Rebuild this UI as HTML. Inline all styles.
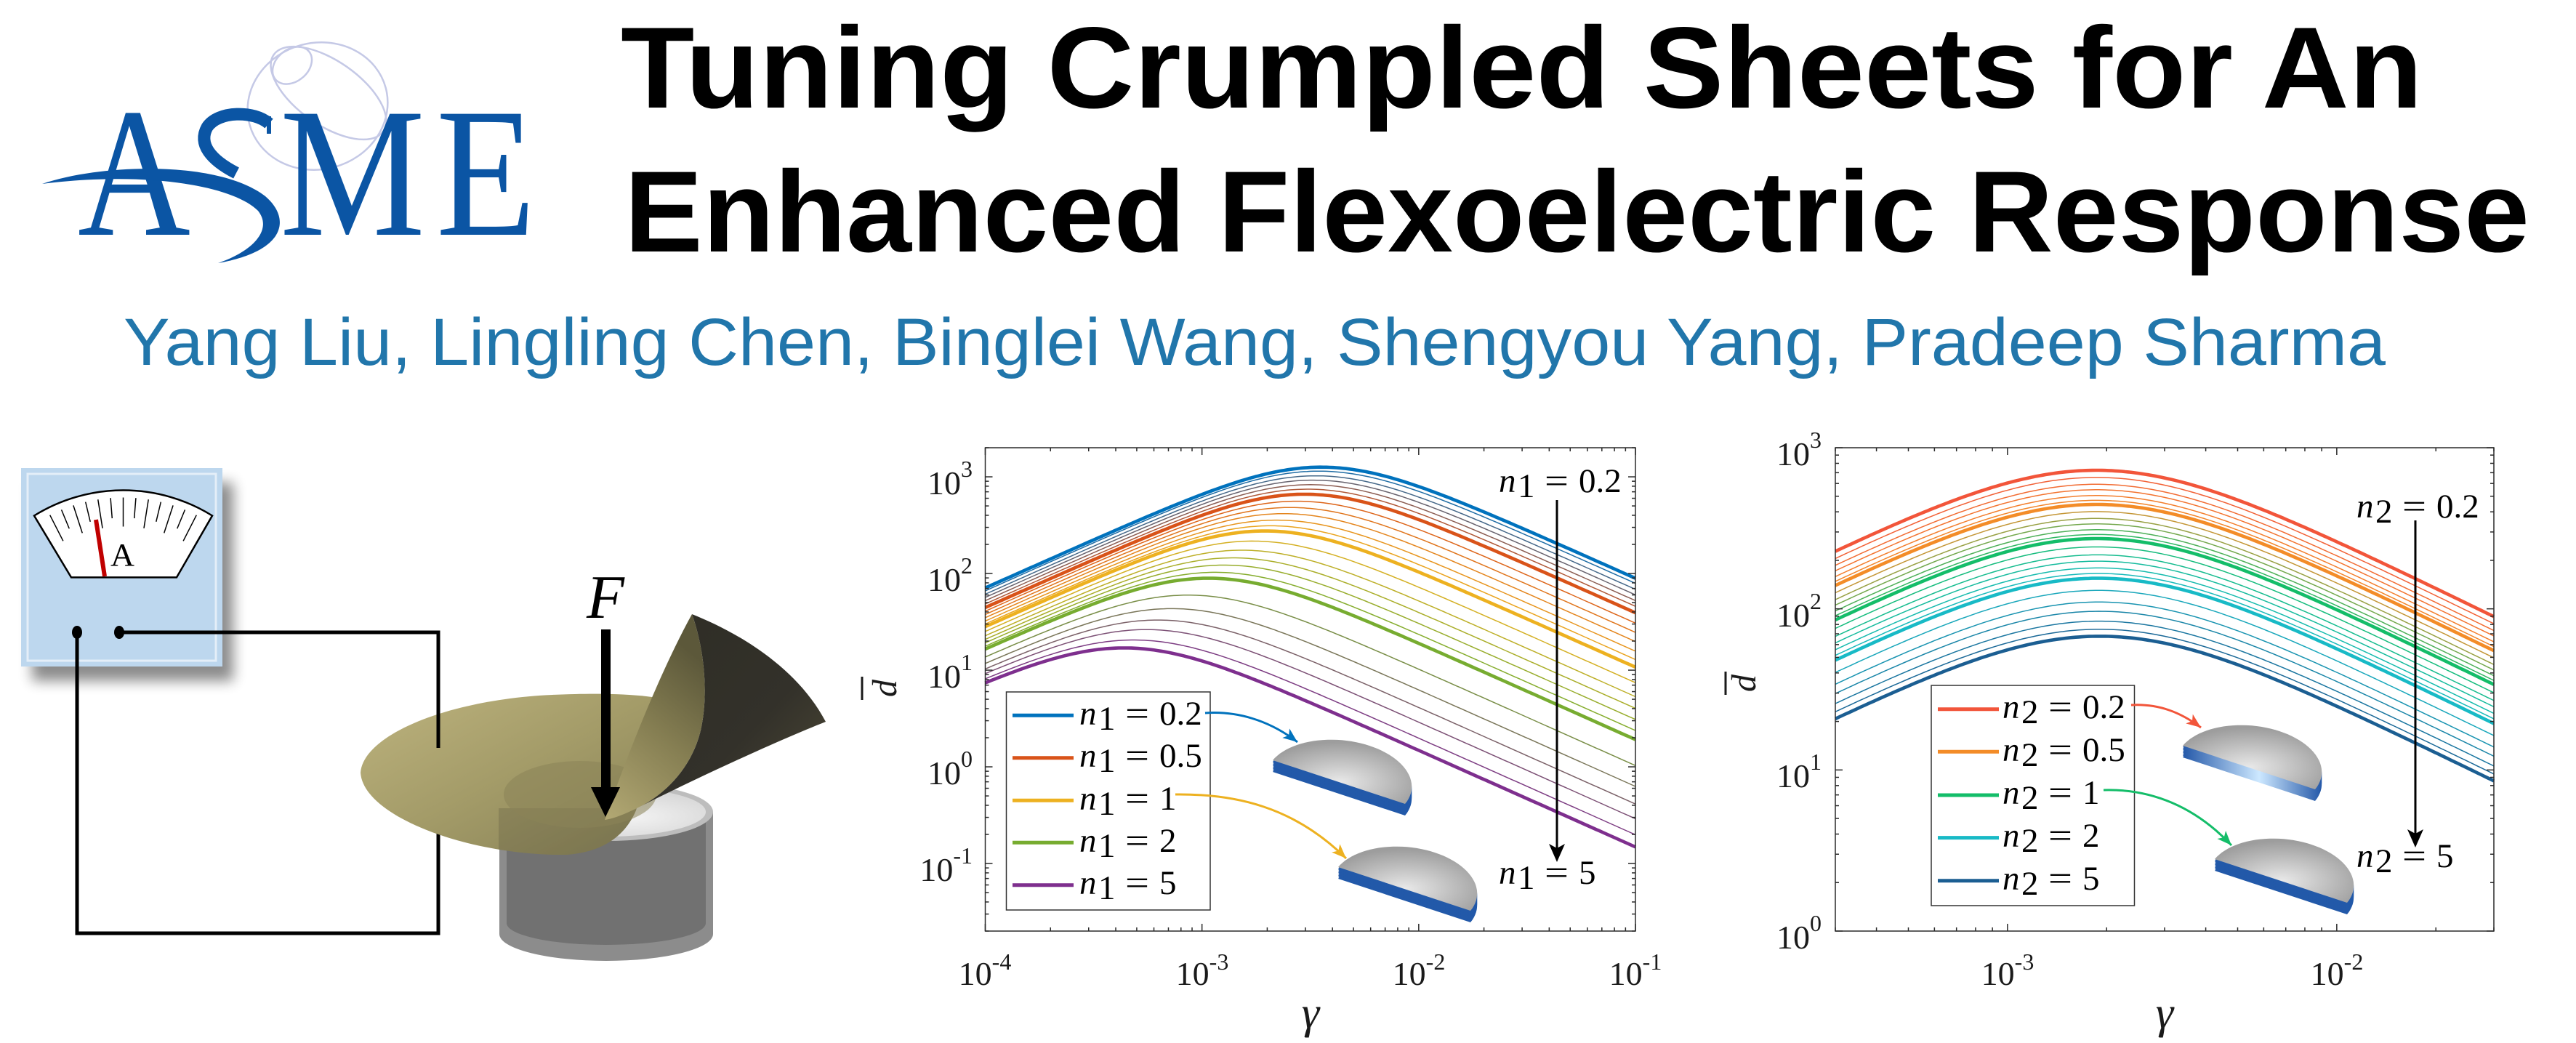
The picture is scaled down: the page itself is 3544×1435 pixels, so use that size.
<!DOCTYPE html>
<html><head><meta charset="utf-8">
<style>
html,body{margin:0;padding:0;background:#fff;width:3544px;height:1435px;overflow:hidden;}
svg{display:block;}
.tk{font-family:"Liberation Serif",serif;fill:#1a1a1a;}
.lb text{font-family:"Liberation Serif",serif;font-size:47px;fill:#000;}
</style></head><body>
<svg id="s" width="3544" height="1435" viewBox="0 0 3544 1435" xmlns="http://www.w3.org/2000/svg">
<defs>
 <filter id="sh" x="-30%" y="-30%" width="160%" height="160%"><feGaussianBlur stdDeviation="9"/></filter>
 <linearGradient id="olv" x1="0" y1="0" x2="1" y2="1"><stop offset="0" stop-color="#bdb37e"/><stop offset="0.5" stop-color="#a39b68"/><stop offset="1" stop-color="#857f55"/></linearGradient>
 <linearGradient id="flapF" x1="0" y1="1" x2="0.4" y2="0"><stop offset="0" stop-color="#b3a974"/><stop offset="0.55" stop-color="#857e52"/><stop offset="1" stop-color="#5c583a"/></linearGradient>
 <linearGradient id="flapD" x1="0" y1="0" x2="1" y2="1"><stop offset="0" stop-color="#2e2d25"/><stop offset="0.6" stop-color="#33312a"/><stop offset="1" stop-color="#4d4936"/></linearGradient>
 <radialGradient id="cylT" cx="0.6" cy="0.6" r="0.7"><stop offset="0" stop-color="#f4f4f4"/><stop offset="1" stop-color="#cdcdcd"/></radialGradient>
 <radialGradient id="dg" cx="0.48" cy="0.66" r="0.62"><stop offset="0" stop-color="#e9e9e9"/><stop offset="1" stop-color="#9d9d9d"/></radialGradient>
 <linearGradient id="slabH" x1="0" y1="0" x2="1" y2="0"><stop offset="0" stop-color="#2458a8"/><stop offset="0.55" stop-color="#cde8ff"/><stop offset="1" stop-color="#2458a8"/></linearGradient>
 <marker id="mB" markerUnits="userSpaceOnUse" markerWidth="22" markerHeight="18" refX="20" refY="8" orient="auto"><path d="M0,0 L20,8 L0,16 L5,8 Z" fill="#0072BD"/></marker>
 <marker id="mY" markerUnits="userSpaceOnUse" markerWidth="22" markerHeight="18" refX="20" refY="8" orient="auto"><path d="M0,0 L20,8 L0,16 L5,8 Z" fill="#EDB120"/></marker>
 <marker id="mR" markerUnits="userSpaceOnUse" markerWidth="22" markerHeight="18" refX="20" refY="8" orient="auto"><path d="M0,0 L20,8 L0,16 L5,8 Z" fill="#F2553A"/></marker>
 <marker id="mG" markerUnits="userSpaceOnUse" markerWidth="22" markerHeight="18" refX="20" refY="8" orient="auto"><path d="M0,0 L20,8 L0,16 L5,8 Z" fill="#14BD69"/></marker>
 <clipPath id="shclip"><path d="M496,1063 C500,1010 620,962 760,956 C830,953 880,955 915,962 L890,1060 L875,1115 C860,1150 830,1172 780,1176 C650,1178 500,1125 496,1063 Z"/></clipPath>
</defs>

<!-- ASME logo -->
<g>
 <g fill="none" stroke="#c5c9e6" stroke-width="2.5">
  <ellipse cx="437" cy="146" rx="97" ry="87" transform="rotate(-15 437 146)"/>
  <ellipse cx="452" cy="128" rx="92" ry="44" transform="rotate(35 452 128)"/>
  <ellipse cx="402" cy="90" rx="30" ry="22" transform="rotate(-40 402 90)"/>
 </g>
 <g fill="#0b55a4" font-family="'Liberation Serif',serif" font-size="254">
  <text x="107" y="323" textLength="155" lengthAdjust="spacingAndGlyphs">A</text>
  <text x="385" y="323" textLength="200" lengthAdjust="spacingAndGlyphs">M</text>
  <text x="600" y="323" textLength="137" lengthAdjust="spacingAndGlyphs">E</text>
 </g>
 <path d="M370,170 C350,152 300,152 285,175 C272,198 290,220 325,238" fill="none" stroke="#0b55a4" stroke-width="17"/>
 <line x1="370" y1="160" x2="370" y2="184" stroke="#0b55a4" stroke-width="6"/>
 <path d="M58,253 C140,225 300,220 365,270 C400,300 395,345 300,362 C350,345 375,315 355,290 C320,255 200,235 58,253 Z" fill="#0b55a4"/>
</g>

<!-- Title -->
<text x="854" y="148" font-family="'Liberation Sans',sans-serif" font-weight="bold" font-size="159" fill="#000" textLength="2479" lengthAdjust="spacingAndGlyphs">Tuning Crumpled Sheets for An</text>
<text x="859" y="346" font-family="'Liberation Sans',sans-serif" font-weight="bold" font-size="159" fill="#000" textLength="2621" lengthAdjust="spacingAndGlyphs">Enhanced Flexoelectric Response</text>
<text x="170" y="502" font-family="'Liberation Sans',sans-serif" font-size="92" fill="#2176ab" textLength="3112" lengthAdjust="spacingAndGlyphs">Yang Liu, Lingling Chen, Binglei Wang, Shengyou Yang, Pradeep Sharma</text>

<!-- Illustration -->
<g>
 <rect x="44" y="664" width="277" height="273" fill="#000" opacity="0.45" filter="url(#sh)"/>
 <rect x="29" y="644" width="277" height="273" fill="#bdd7ee"/>
 <rect x="38" y="652" width="259" height="257" fill="none" stroke="#e4eef8" stroke-width="3"/>
 <path d="M47,709.5 A232,232 0 0 1 292,709.5 L243,794.4 L98,794.4 Z" fill="#fff" stroke="#000" stroke-width="2.5"/>
 <g id="dialTicks" stroke="#000" stroke-width="1.5"></g>
 <line x1="132" y1="715" x2="144" y2="793" stroke="#c00000" stroke-width="6"/>
 <text x="152" y="778" font-family="'Liberation Serif',serif" font-size="44" textLength="33" lengthAdjust="spacingAndGlyphs" fill="#000">A</text>
 <ellipse cx="106" cy="870" rx="7" ry="9" fill="#000"/>
 <ellipse cx="164" cy="870" rx="7" ry="9" fill="#000"/>
 <path d="M603,1100 V1284 H106 V870" fill="none" stroke="#000" stroke-width="5"/>

 <!-- cylinder -->
 <path d="M687,1117 V1285 A147,37 0 0 0 981,1285 V1117 Z" fill="#8c8c8c"/>
 <path d="M697,1125 V1270 A137,30 0 0 0 971,1270 V1125 Z" fill="#717171"/>
 <ellipse cx="834" cy="1117" rx="147" ry="40" fill="#bdbdbd"/>
 <ellipse cx="834" cy="1117" rx="137" ry="34" fill="url(#cylT)"/>

 <!-- sheet -->
 <path d="M496,1063 C500,1010 620,962 760,956 C830,953 880,955 915,962 L890,1060 L875,1115 C860,1150 830,1172 780,1176 C650,1178 500,1125 496,1063 Z" fill="url(#olv)"/>
 <rect x="686" y="1112" width="300" height="90" fill="#4a4530" opacity="0.22" clip-path="url(#shclip)"/>
 <ellipse cx="798" cy="1093" rx="105" ry="46" fill="#8a8458" opacity="0.55"/>
 <path d="M952,845 C1010,868 1095,915 1136,993 C1080,1015 980,1060 880,1110 C920,1090 955,1050 965,1000 C975,950 968,890 952,845 Z" fill="url(#flapD)"/>
 <path d="M832,1128 C855,1060 905,930 952,845 C968,890 975,950 965,1000 C955,1050 920,1090 880,1110 C860,1120 845,1126 832,1128 Z" fill="url(#flapF)"/>
 <path d="M164,870 H603 V1029" fill="none" stroke="#000" stroke-width="5"/>

 <!-- force -->
 <rect x="827" y="866" width="13" height="222" fill="#000"/>
 <path d="M813,1083 L853,1083 L833,1124 Z" fill="#000"/>
 <text x="833" y="850" text-anchor="middle" font-family="'Liberation Serif',serif" font-style="italic" font-size="85" fill="#000">F</text>
</g>

<!-- Middle chart -->
<g id="c1"></g>
<g class="tk" font-size="46">
 <text x="1338" y="680" text-anchor="end">10<tspan font-size="32" dy="-24">3</tspan></text>
 <text x="1338" y="813" text-anchor="end">10<tspan font-size="32" dy="-24">2</tspan></text>
 <text x="1338" y="946" text-anchor="end">10<tspan font-size="32" dy="-24">1</tspan></text>
 <text x="1338" y="1079" text-anchor="end">10<tspan font-size="32" dy="-24">0</tspan></text>
 <text x="1338" y="1212" text-anchor="end">10<tspan font-size="32" dy="-24">-1</tspan></text>
 <text x="1355" y="1355" text-anchor="middle">10<tspan font-size="32" dy="-21">-4</tspan></text>
 <text x="1654" y="1355" text-anchor="middle">10<tspan font-size="32" dy="-21">-3</tspan></text>
 <text x="1952" y="1355" text-anchor="middle">10<tspan font-size="32" dy="-21">-2</tspan></text>
 <text x="2250" y="1355" text-anchor="middle">10<tspan font-size="32" dy="-21">-1</tspan></text>
 <text x="1803" y="1414" text-anchor="middle" font-style="italic" font-size="62">γ</text>
 <text transform="translate(1233,947) rotate(-90)" text-anchor="middle" font-style="italic" font-size="48">d</text>
</g>
<line x1="1186" y1="931" x2="1186" y2="963" stroke="#1a1a1a" stroke-width="3"/>
<!-- legend 1 -->
<rect x="1384.5" y="952" width="280.5" height="300" fill="#fff" stroke="#333" stroke-width="1.5"/>
<g stroke-width="5">
 <line x1="1393" y1="984.3" x2="1477" y2="984.3" stroke="#0072BD"/>
 <line x1="1393" y1="1042.7" x2="1477" y2="1042.7" stroke="#D95319"/>
 <line x1="1393" y1="1101.3" x2="1477" y2="1101.3" stroke="#EDB120"/>
 <line x1="1393" y1="1159.3" x2="1477" y2="1159.3" stroke="#77AC30"/>
 <line x1="1393" y1="1217.7" x2="1477" y2="1217.7" stroke="#7E2F8E"/>
</g>
<g class="lb">
 <text x="1485" y="997" font-style="italic">n</text><text x="1511" y="1004" font-size="33">1</text><text x="1548" y="997" textLength="33" lengthAdjust="spacingAndGlyphs">=</text><text x="1595" y="997">0.2</text>
 <text x="1485" y="1055" font-style="italic">n</text><text x="1511" y="1062" font-size="33">1</text><text x="1548" y="1055" textLength="33" lengthAdjust="spacingAndGlyphs">=</text><text x="1595" y="1055">0.5</text>
 <text x="1485" y="1114" font-style="italic">n</text><text x="1511" y="1121" font-size="33">1</text><text x="1548" y="1114" textLength="33" lengthAdjust="spacingAndGlyphs">=</text><text x="1595" y="1114">1</text>
 <text x="1485" y="1172" font-style="italic">n</text><text x="1511" y="1179" font-size="33">1</text><text x="1548" y="1172" textLength="33" lengthAdjust="spacingAndGlyphs">=</text><text x="1595" y="1172">2</text>
 <text x="1485" y="1230" font-style="italic">n</text><text x="1511" y="1237" font-size="33">1</text><text x="1548" y="1230" textLength="33" lengthAdjust="spacingAndGlyphs">=</text><text x="1595" y="1230">5</text>
 <text x="2062" y="677" font-style="italic">n</text><text x="2088" y="684" font-size="33">1</text><text x="2125" y="677" textLength="33" lengthAdjust="spacingAndGlyphs">=</text><text x="2172" y="677">0.2</text>
 <text x="2062" y="1216" font-style="italic">n</text><text x="2088" y="1223" font-size="33">1</text><text x="2125" y="1216" textLength="33" lengthAdjust="spacingAndGlyphs">=</text><text x="2172" y="1216">5</text>
</g>
<line x1="2142" y1="688" x2="2142" y2="1168" stroke="#000" stroke-width="3"/>
<path d="M2142,1186 L2131,1161 L2142,1167 L2153,1161 Z" fill="#000"/>
<g id="d1"></g>
<path d="M1658,981 C1700,978 1745,990 1785,1021" fill="none" stroke="#0072BD" stroke-width="3" marker-end="url(#mB)"/>
<path d="M1617,1093 C1700,1092 1780,1110 1852,1181" fill="none" stroke="#EDB120" stroke-width="3" marker-end="url(#mY)"/>

<!-- Right chart -->
<g id="c2"></g>
<g class="tk" font-size="46">
 <text x="2506" y="640" text-anchor="end">10<tspan font-size="32" dy="-24">3</tspan></text>
 <text x="2506" y="862" text-anchor="end">10<tspan font-size="32" dy="-24">2</tspan></text>
 <text x="2506" y="1083" text-anchor="end">10<tspan font-size="32" dy="-24">1</tspan></text>
 <text x="2506" y="1305" text-anchor="end">10<tspan font-size="32" dy="-24">0</tspan></text>
 <text x="2762" y="1355" text-anchor="middle">10<tspan font-size="32" dy="-21">-3</tspan></text>
 <text x="3215" y="1355" text-anchor="middle">10<tspan font-size="32" dy="-21">-2</tspan></text>
 <text x="2978" y="1414" text-anchor="middle" font-style="italic" font-size="62">γ</text>
 <text transform="translate(2415,940) rotate(-90)" text-anchor="middle" font-style="italic" font-size="48">d</text>
</g>
<line x1="2374" y1="924" x2="2374" y2="956" stroke="#1a1a1a" stroke-width="3"/>
<rect x="2657" y="943" width="279.5" height="303" fill="#fff" stroke="#333" stroke-width="1.5"/>
<g stroke-width="5">
 <line x1="2666" y1="975.7" x2="2750" y2="975.7" stroke="#F2553A"/>
 <line x1="2666" y1="1034.3" x2="2750" y2="1034.3" stroke="#F38C28"/>
 <line x1="2666" y1="1094" x2="2750" y2="1094" stroke="#14BD69"/>
 <line x1="2666" y1="1152.6" x2="2750" y2="1152.6" stroke="#18BAC6"/>
 <line x1="2666" y1="1211.8" x2="2750" y2="1211.8" stroke="#1B5E92"/>
</g>
<g class="lb">
 <text x="2755" y="988" font-style="italic">n</text><text x="2781" y="995" font-size="33">2</text><text x="2818" y="988" textLength="33" lengthAdjust="spacingAndGlyphs">=</text><text x="2865" y="988">0.2</text>
 <text x="2755" y="1047" font-style="italic">n</text><text x="2781" y="1054" font-size="33">2</text><text x="2818" y="1047" textLength="33" lengthAdjust="spacingAndGlyphs">=</text><text x="2865" y="1047">0.5</text>
 <text x="2755" y="1106" font-style="italic">n</text><text x="2781" y="1113" font-size="33">2</text><text x="2818" y="1106" textLength="33" lengthAdjust="spacingAndGlyphs">=</text><text x="2865" y="1106">1</text>
 <text x="2755" y="1165" font-style="italic">n</text><text x="2781" y="1172" font-size="33">2</text><text x="2818" y="1165" textLength="33" lengthAdjust="spacingAndGlyphs">=</text><text x="2865" y="1165">2</text>
 <text x="2755" y="1224" font-style="italic">n</text><text x="2781" y="1231" font-size="33">2</text><text x="2818" y="1224" textLength="33" lengthAdjust="spacingAndGlyphs">=</text><text x="2865" y="1224">5</text>
 <text x="3242" y="712" font-style="italic">n</text><text x="3268" y="719" font-size="33">2</text><text x="3305" y="712" textLength="33" lengthAdjust="spacingAndGlyphs">=</text><text x="3352" y="712">0.2</text>
 <text x="3242" y="1193" font-style="italic">n</text><text x="3268" y="1200" font-size="33">2</text><text x="3305" y="1193" textLength="33" lengthAdjust="spacingAndGlyphs">=</text><text x="3352" y="1193">5</text>
</g>
<line x1="3323" y1="716" x2="3323" y2="1148" stroke="#000" stroke-width="3"/>
<path d="M3323,1166 L3312,1141 L3323,1147 L3334,1141 Z" fill="#000"/>
<g id="d2"></g>
<path d="M2932,970 C2970,968 3000,980 3028,1001" fill="none" stroke="#F2553A" stroke-width="3" marker-end="url(#mR)"/>
<path d="M2894,1087 C2960,1085 3020,1110 3070,1163" fill="none" stroke="#14BD69" stroke-width="3" marker-end="url(#mG)"/>
</svg>
<script>
(function(){
var NS='http://www.w3.org/2000/svg';
function el(t,a,p){var e=document.createElementNS(NS,t);for(var k in a)e.setAttribute(k,a[k]);p.appendChild(e);return e;}
var L10=function(v){return Math.log(v)/Math.LN10;};
function chart(c){
 var g=document.getElementById(c.id);
 var X=function(lx){return c.x0+(lx-c.lx0)/(c.lx1-c.lx0)*(c.x1-c.x0);};
 var Y=function(ly){return c.y1-(ly-c.ly0)/(c.ly1-c.ly0)*(c.y1-c.y0);};
 var cur=[];
 for(var s=0;s<c.th.length-1;s++){var a=c.th[s],b=c.th[s+1],ts=c.ts[s];
  for(var k=(s?1:0);k<ts.length;k++){var t=ts[k];
   cur.push({x0:a[0]+(b[0]-a[0])*t,p:a[1]+(b[1]-a[1])*t,col:[0,1,2].map(function(i){return Math.round(a[2][i]+(b[2][i]-a[2][i])*t);}),thick:(k==0||k==ts.length-1)});}}
 var order=cur.filter(function(q){return !q.thick;}).concat(cur.filter(function(q){return q.thick;}));
 order.forEach(function(q){var d='';var N=200;
  for(var i=0;i<=N;i++){var lx=c.lx0+(c.lx1-c.lx0)*i/N,u=lx-q.x0;var ly=q.p+L10(2)+u-L10(1+Math.pow(10,2*u));
   d+=(i?'L':'M')+X(lx).toFixed(1)+','+Y(ly).toFixed(1);}
  el('path',{d:d,fill:'none',stroke:'rgb('+q.col.join(',')+')','stroke-width':q.thick?4.6:1.5,'stroke-linejoin':'round'},g);});
 var tg=el('g',{stroke:'#2a2a2a','stroke-width':1.5,fill:'none'},g);
 var ln=function(a,b,cc,d){el('line',{x1:a,y1:b,x2:cc,y2:d},tg);};
 var k,m,y,x,l,lv;
 for(k=Math.floor(c.ly0)-1;k<=Math.ceil(c.ly1);k++)for(m=1;m<10;m++){lv=k+L10(m);if(lv<c.ly0-1e-6||lv>c.ly1+1e-6)continue;y=Y(lv);l=m==1?10:5;ln(c.x0,y,c.x0+l,y);ln(c.x1,y,c.x1-l,y);}
 for(k=Math.floor(c.lx0)-1;k<=Math.ceil(c.lx1);k++)for(m=1;m<10;m++){lv=k+L10(m);if(lv<c.lx0-1e-6||lv>c.lx1+1e-6)continue;x=X(lv);l=m==1?10:5;ln(x,c.y0,x,c.y0+l);ln(x,c.y1,x,c.y1-l);}
 el('rect',{x:c.x0,y:c.y0,width:c.x1-c.x0,height:c.y1-c.y0},tg);
}
chart({id:'c1',x0:1355.5,x1:2250,y0:616,y1:1281,lx0:-4,lx1:-1,ly0:L10(0.02),ly1:L10(2000),
 th:[[-2.45,3.10,[0,114,189]],[-2.527,2.82,[217,83,25]],[-2.71,2.44,[237,177,32]],[-2.97,1.951,[119,172,48]],[-3.36,1.23,[126,47,142]]],
 ts:[[0,.147,.32,.48,.647,.813,1],[0,.19,.361,.529,.705,.859,1],[0,.214,.407,.569,.722,.875,1],[0,.242,.436,.6,.737,.886,1]]});
var tr=[0,.21,.41,.57,.74,.88,1];
chart({id:'c2',x0:2525,x1:3431,y0:616,y1:1281,lx0:L10(3e-4),lx1:L10(3e-2),ly0:0,ly1:3,
 th:[[-2.73,2.86,[242,85,58]],[-2.73,2.648,[243,140,40]],[-2.728,2.436,[20,189,105]],[-2.724,2.19,[24,186,198]],[-2.72,1.83,[27,94,146]]],
 ts:[tr,tr,tr,tr]});
function disk(g,Ax,Ay,hl){
 var ux=91,uy=30,vx=42,vy=-50,Cx=Ax+ux,Cy=Ay+uy;
 var top=function(dy){var d='';for(var i=0;i<=48;i++){var th=Math.PI*(1-i/48);d+=(i?'L':'M')+(Cx+Math.cos(th)*ux+Math.sin(th)*vx).toFixed(1)+','+(Cy+Math.cos(th)*uy+Math.sin(th)*vy+dy).toFixed(1);}return d+'Z';};
 for(var dy=16;dy>0;dy-=2)el('path',{d:top(dy),fill:hl?'url(#slabH)':'#2259a9'},g);
 el('path',{d:top(0),fill:'url(#dg)'},g);
}
var d1=document.getElementById('d1'),d2=document.getElementById('d2');
disk(d1,1751,1046,false);disk(d1,1841,1193,false);
disk(d2,3003,1026,true);disk(d2,3047,1182,false);
var ag=document.getElementById('dialTicks');
for(var i=0;i<13;i++){var a=(-27+i*4.5)*Math.PI/180;var r1=i%2?194:182,r2=222;
 el('line',{x1:169.5+r1*Math.sin(a),y1:906.5-r1*Math.cos(a),x2:169.5+r2*Math.sin(a),y2:906.5-r2*Math.cos(a)},ag);}
})();
</script>
</body></html>
